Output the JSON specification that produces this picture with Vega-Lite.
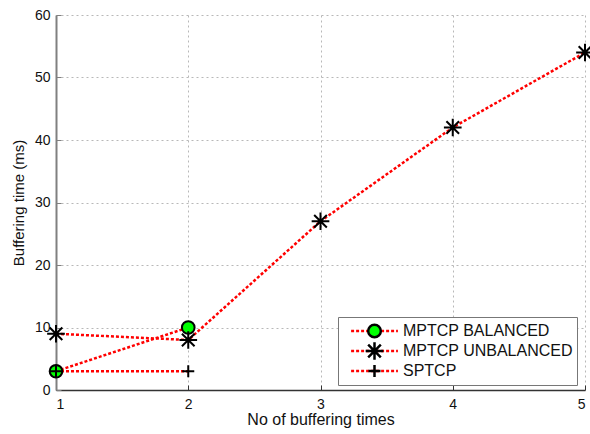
{
  "$schema": "https://vega.github.io/schema/vega-lite/v6.json",
  "autosize": {"type": "none"},
  "width": 529,
  "height": 375,
  "padding": {"left": 56, "top": 15, "right": 5, "bottom": 44},
  "background": "white",
  "config": {
    "font": "Liberation Sans",
    "view": {"stroke": null}
  },
  "data": {
    "values": [
      {"x": 1, "y": 3, "series": "MPTCP BALANCED"},
      {"x": 2, "y": 10, "series": "MPTCP BALANCED"},
      {"x": 1, "y": 9, "series": "MPTCP UNBALANCED"},
      {"x": 2, "y": 8, "series": "MPTCP UNBALANCED"},
      {"x": 3, "y": 27, "series": "MPTCP UNBALANCED"},
      {"x": 4, "y": 42, "series": "MPTCP UNBALANCED"},
      {"x": 5, "y": 54, "series": "MPTCP UNBALANCED"},
      {"x": 1, "y": 3, "series": "SPTCP"},
      {"x": 2, "y": 3, "series": "SPTCP"}
    ]
  },
  "encoding": {
    "x": {
      "field": "x",
      "type": "quantitative",
      "scale": {"domain": [1, 5], "nice": false, "zero": false},
      "axis": {
        "values": [1, 2, 3, 4, 5],
        "format": "d",
        "title": "No of buffering times",
        "titleFontSize": 16,
        "titleFontWeight": "normal",
        "titleColor": "#111",
        "titlePadding": 0,
        "labelFontSize": 14,
        "labelColor": "#111",
        "labelPadding": 12,
        "grid": true,
        "gridColor": "#b8b8b8",
        "gridDash": [2, 3],
        "domainColor": "#333",
        "domainWidth": 1.5,
        "tickColor": "#333",
        "tickSize": -5
      }
    },
    "y": {
      "field": "y",
      "type": "quantitative",
      "scale": {"domain": [0, 60], "nice": false},
      "axis": {
        "values": [0, 10, 20, 30, 40, 50, 60],
        "title": "Buffering time (ms)",
        "titleFontSize": 15,
        "titleFontWeight": "normal",
        "titleColor": "#111",
        "titlePadding": 8,
        "labelFontSize": 14,
        "labelColor": "#111",
        "labelPadding": 11,
        "grid": true,
        "gridColor": "#b8b8b8",
        "gridDash": [2, 3],
        "domainColor": "#808080",
        "domainWidth": 2,
        "tickColor": "#808080",
        "tickSize": -5
      }
    }
  },
  "layer": [
    {
      "mark": {"type": "line", "strokeWidth": 2.5, "strokeDash": [3, 2]},
      "encoding": {
        "color": {
          "field": "series",
          "type": "nominal",
          "scale": {
            "domain": ["MPTCP BALANCED", "MPTCP UNBALANCED", "SPTCP"],
            "range": ["#ff0000", "#ff0000", "#ff0000"]
          },
          "legend": {
            "title": null,
            "orient": "none",
            "legendX": 282,
            "legendY": 302,
            "padding": 4,
            "clipHeight": 20,
            "rowPadding": 0,
            "strokeColor": "#777",
            "fillColor": "white",
            "symbolType": "M-3.7,0L3.7,0",
            "symbolSize": 160,
            "symbolStrokeWidth": 2.5,
            "symbolDash": [3, 2],
            "symbolOffset": 24.5,
            "labelFontSize": 16,
            "labelColor": "#111",
            "labelOffset": 20.5,
            "labelLimit": 300
          }
        }
      }
    },
    {
      "mark": {"type": "point", "filled": true, "stroke": "black", "strokeWidth": 2, "opacity": 1, "size": 160},
      "encoding": {
        "shape": {
          "field": "series",
          "type": "nominal",
          "scale": {
            "range": [
              "circle",
              "M0,-1.4L0,1.4M-1.4,0L1.4,0M-1,-1L1,1M-1,1L1,-1",
              "M-0.95,0L0.95,0M0,-0.95L0,0.95"
            ]
          },
          "legend": {
            "title": null,
            "orient": "none",
            "legendX": 282,
            "legendY": 302,
            "padding": 4,
            "clipHeight": 20,
            "rowPadding": 0,
            "symbolSize": 160,
            "symbolStrokeWidth": 2.5,
            "symbolOffset": 24.5,
            "labelFontSize": 16,
            "labelOpacity": 0,
            "labelOffset": 20.5,
            "labelLimit": 300,
            "encode": {
              "symbols": {
                "update": {
                  "stroke": {"value": "black"},
                  "strokeWidth": {"value": 2},
                  "opacity": {"value": 1}
                }
              }
            }
          }
        },
        "fill": {
          "field": "series",
          "type": "nominal",
          "scale": {"range": ["#00ff00", "#000000", "#000000"]},
          "legend": {
            "title": null,
            "orient": "none",
            "legendX": 282,
            "legendY": 302,
            "padding": 4,
            "clipHeight": 20,
            "rowPadding": 0,
            "symbolSize": 160,
            "symbolStrokeWidth": 2.5,
            "symbolOffset": 24.5,
            "labelFontSize": 16,
            "labelOpacity": 0,
            "labelOffset": 20.5,
            "labelLimit": 300
          }
        }
      }
    }
  ]
}
